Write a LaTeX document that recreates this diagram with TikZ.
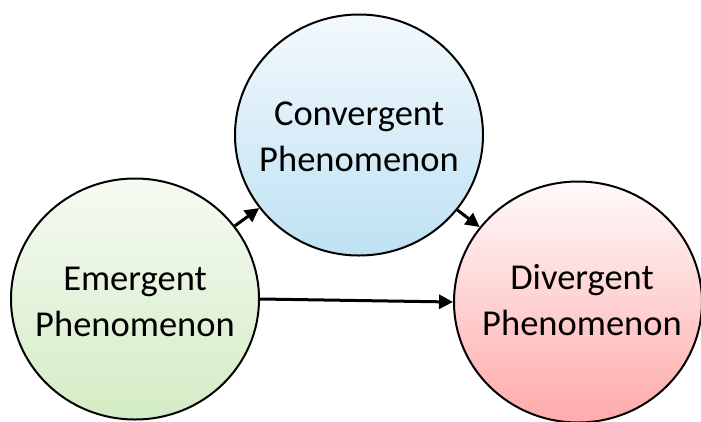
\documentclass[tikz,border=0pt]{standalone}
\usepackage{fontspec}
\setmainfont{Carlito}
\usetikzlibrary{shapes.geometric,arrows.meta}
\definecolor{cvtop}{RGB}{243,249,253}
\definecolor{cvbot}{RGB}{190,225,243}
\definecolor{emtop}{RGB}{246,251,243}
\definecolor{embot}{RGB}{211,236,196}
\definecolor{dvtop}{RGB}{255,250,250}
\definecolor{dvbot}{RGB}{255,170,170}
\tikzset{
  phen/.style={ellipse, draw=black, line width=2pt, minimum width=248pt, minimum height=241pt,
    inner sep=0pt},
  phentext/.style={align=center, inner sep=0pt, font=\fontsize{36.5}{46}\selectfont},
  conn/.style={line width=3pt, -{Triangle[length=14pt,width=14pt]}}
}
\begin{document}
\begin{tikzpicture}[x=1pt,y=-1pt]
\useasboundingbox (0,0) rectangle (701,421);
\node[phen, top color=cvtop, bottom color=cvbot] (C) at (359,135) {};
\node[phen, top color=emtop, bottom color=embot] (E) at (135,299) {};
\node[phen, top color=dvtop, bottom color=dvbot] (D) at (578,302) {};
\node[phentext] (Ct) at (359,137) {Convergent\\Phenomenon};
\node[phentext] (Et) at (135,302) {Emergent\\Phenomenon};
\node[phentext] (Dt) at (582,300) {Divergent\\Phenomenon};
\draw[conn] (E) -- (C);
\draw[conn] (C) -- (D);
\draw[conn] (E.east) -- (D.west);
\end{tikzpicture}
\end{document}
